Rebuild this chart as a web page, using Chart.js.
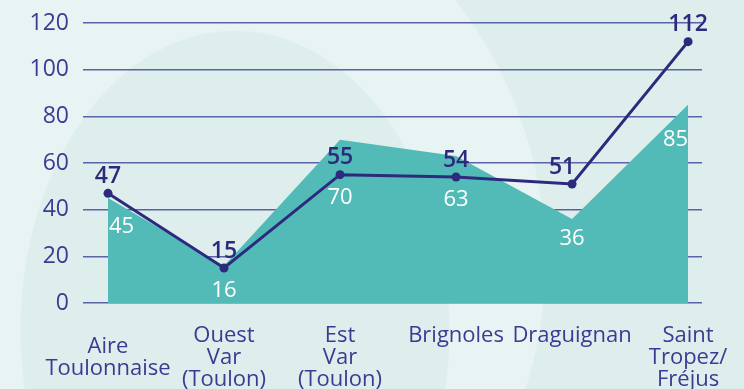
<!DOCTYPE html>
<html>
<head>
<meta charset="utf-8">
<script src="https://cdn.jsdelivr.net/npm/chart.js@4"></script>
<style>
  html, body { margin: 0; padding: 0; }
  body {
    width: 744px; height: 389px; overflow: hidden;
    background:
      radial-gradient(215px 300px at 235px 330px, #deeeed 99.5%, rgba(222,238,237,0) 100%),
      radial-gradient(423px 423px at 123px 261px, #e8f4f4 99.7%, rgba(232,244,244,0) 100%),
      #deeeed;
  }
  canvas { display: block; }
</style>
</head>
<body>
<canvas id="chart" width="744" height="389"></canvas>
<script>
const regions = [
  ['Aire', 'Toulonnaise'],
  ['Ouest', 'Var', '(Toulon)'],
  ['Est', 'Var', '(Toulon)'],
  ['Brignoles', '', ''],
  ['Draguignan', '', ''],
  ['Saint', 'Tropez/', 'Fréjus']
];
const areaValues = [45, 16, 70, 63, 36, 85];
const lineValues = [47, 15, 55, 54, 51, 112];
const yTicks = [0, 20, 40, 60, 80, 100, 120];

const FONT = '"Open Sans", Lato, sans-serif';
const NAVY = '#2d2a7e';
const AXIS_TEXT = '#3d3a92';

// value labels: navy above the line, white inside the area
const valueLabels = {
  id: 'valueLabels',
  afterDatasetsDraw(chart) {
    const ctx = chart.ctx;
    const area = chart.getDatasetMeta(1).data;
    const line = chart.getDatasetMeta(0).data;
    const last = area.length - 1;
    ctx.save();
    ctx.textBaseline = 'middle';

    ctx.font = '600 23px ' + FONT;
    ctx.fillStyle = NAVY;
    ctx.textAlign = 'center';
    line.forEach((p, i) => {
      // nudge left when the next segment climbs steeply
      const next = line[i + 1];
      const dx = next && (p.y - next.y) > 100 ? -10 : 0;
      ctx.fillText(String(lineValues[i]), p.x + dx, p.y - 17);
    });

    ctx.font = '22px ' + FONT;
    ctx.fillStyle = '#ffffff';
    area.forEach((p, i) => {
      let x = p.x, y, align = 'center';
      if (i === 0) { align = 'left'; x += 1; y = p.y + 29; }
      else if (i === last) { align = 'right'; y = p.y + 35; }
      else { y = Math.max(p.y + 20, line[i].y + 23); }
      ctx.textAlign = align;
      ctx.fillText(String(areaValues[i]), x, y);
    });
    ctx.restore();
  }
};

new Chart(document.getElementById('chart'), {
  type: 'line',
  data: {
    datasets: [
      {
        label: 'line',
        data: lineValues.map((v, i) => ({ x: i, y: v })),
        borderColor: NAVY,
        borderWidth: 3,
        pointRadius: 4.5,
        pointBackgroundColor: NAVY,
        pointBorderWidth: 0,
        tension: 0,
        order: 0
      },
      {
        label: 'area',
        data: areaValues.map((v, i) => ({ x: i, y: v })),
        backgroundColor: '#52bbb8',
        borderWidth: 0,
        pointRadius: 0,
        fill: 'origin',
        tension: 0,
        order: 1
      }
    ]
  },
  options: {
    responsive: false,
    animation: false,
    layout: { padding: { top: 23, right: 42, left: 0, bottom: 0 } },
    plugins: { legend: { display: false }, tooltip: { enabled: false } },
    scales: {
      x: {
        type: 'linear',
        min: -0.2155,
        max: 5.12,
        afterFit(scale) {
          scale.height = 86;
          scale.paddingLeft = 0;
          scale.paddingRight = 0;
        },
        afterBuildTicks(scale) { scale.ticks = regions.map((_, i) => ({ value: i })); },
        grid: { display: false },
        border: { display: false },
        ticks: {
          autoSkip: false,
          maxRotation: 0,
          padding: 25,
          crossAlign: 'center',
          color: AXIS_TEXT,
          font: { family: FONT, size: 22, lineHeight: '22px' },
          callback: (v) => regions[v]
        }
      },
      y: {
        min: 0,
        max: 120,
        afterFit(scale) {
          scale.width = 83;
          scale.paddingTop = 0;
          scale.paddingBottom = 0;
        },
        afterBuildTicks(scale) { scale.ticks = yTicks.map(v => ({ value: v })); },
        grid: { color: '#5a62a8', lineWidth: 1.5, drawTicks: false },
        border: { display: false },
        ticks: {
          padding: 14,
          color: AXIS_TEXT,
          font: { family: FONT, size: 23 }
        }
      }
    }
  },
  plugins: [valueLabels]
});
</script>
</body>
</html>
